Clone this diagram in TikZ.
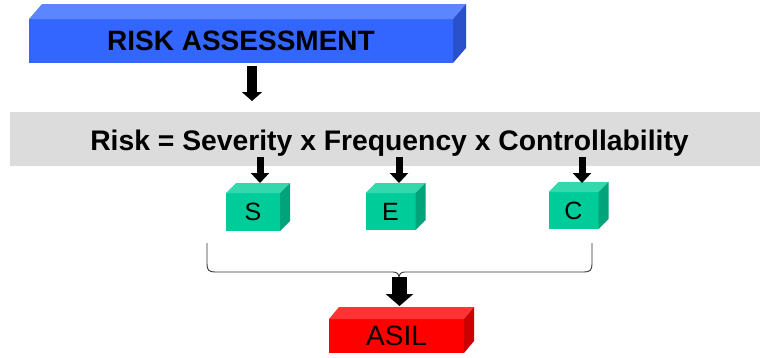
\documentclass[tikz,border=0pt]{standalone}
\usepackage{fontspec}
\setmainfont{Liberation Sans}
\usetikzlibrary{arrows.meta,calc}

\definecolor{blueFront}{HTML}{3366FF}
\definecolor{blueTop}{HTML}{5C86FF}
\definecolor{blueSide}{HTML}{2A50CC}
\definecolor{greenFront}{HTML}{00CC99}
\definecolor{greenTop}{HTML}{33D9AD}
\definecolor{greenSide}{HTML}{00A37A}
\definecolor{redFront}{HTML}{FF0000}
\definecolor{redTop}{HTML}{FF3333}
\definecolor{redSide}{HTML}{CC0000}
\definecolor{bandGray}{HTML}{DCDCDC}
\definecolor{braceGray}{HTML}{333333}

% front face of a block; top and side faces are added by \blockfaces
\tikzset{
  front/.style={inner sep=0pt, outer sep=0pt, text=black},
  bigarrow/.style={line width=10pt, -{Triangle[width=20pt,length=9pt]}},
  smallarrow/.style={line width=7pt, -{Triangle[width=18pt,length=10pt]}},
  fatarrow/.style={line width=15pt, -{Triangle[width=27pt,length=12pt]}},
  bracestyle/.style={draw=braceGray, line width=0.9pt},
}

% #1 node name, #2 depth dx, #3 depth dy, #4 top colour, #5 side colour
\newcommand\blockfaces[5]{%
  \fill[#4] (#1.north west) -- ++(#2,-#3) -- ($(#1.north east)+(#2,-#3)$)
           -- (#1.north east) -- cycle;
  \fill[#5] (#1.north east) -- ++(#2,-#3) -- ($(#1.south east)+(#2,-#3)$)
           -- (#1.south east) -- cycle;
}

\begin{document}
\begin{tikzpicture}[x=1pt,y=-1pt]
\useasboundingbox (0,0) rectangle (763,357);

% risk assessment bar
\node[front, fill=blueFront, minimum width=424pt, minimum height=44pt,
      font=\fontsize{28}{30}\selectfont\bfseries] (ra) at (241,41) {RISK ASSESSMENT};
\blockfaces{ra}{13}{15}{blueTop}{blueSide}

% formula band
\node[fill=bandGray, minimum width=750pt, minimum height=54pt, inner sep=0pt] (band) at (385,139) {};
\node[anchor=base, inner sep=0pt, font=\fontsize{28.3}{30}\selectfont\bfseries] (formula) at (389.5,150)
  {Risk = Severity x Frequency x Controllability};

% S, E, C cubes
\node[front, fill=greenFront, minimum width=54pt, minimum height=38pt,
      font=\fontsize{25}{27}\selectfont] (s) at (253,212) {S};
\node[front, fill=greenFront, minimum width=50pt, minimum height=37pt,
      font=\fontsize{25}{27}\selectfont] (e) at (390.5,211.5) {E};
\node[front, fill=greenFront, minimum width=50pt, minimum height=37pt,
      font=\fontsize{25}{27}\selectfont] (c) at (573.5,210.5) {C};
\blockfaces{s}{10}{10}{greenTop}{greenSide}
\blockfaces{e}{10}{10}{greenTop}{greenSide}
\blockfaces{c}{10}{10}{greenTop}{greenSide}

% ASIL block
\node[front, fill=redFront, minimum width=135pt, minimum height=34pt,
      font=\fontsize{28}{30}\selectfont] (asil) at (396.5,336) {ASIL};
\blockfaces{asil}{10}{12}{redTop}{redSide}

% arrows
\coordinate (a0) at (252,66);
\coordinate (a0e) at (252,101);
\draw[bigarrow] (a0) -- (a0e);

\coordinate (sa) at (260,157);
\coordinate (ea) at (399,157);
\coordinate (ca) at (582,157);
\draw[smallarrow] (sa) -- (sa |- 0,183);
\draw[smallarrow] (ea) -- (ea |- 0,183);
\draw[smallarrow] (ca) -- (ca |- 0,183);

% brace gathering S, E, C
\coordinate (bl) at (207,243);
\coordinate (br) at (592,243);
\coordinate (bm) at (399,278);
\draw[bracestyle] (bl) -- (207,264) .. controls (207,270) and (209,272) .. (215,272)
  -- (393,272) .. controls (397,272) and (399,274) .. (bm)
  .. controls (399,274) and (401,272) .. (405,272)
  -- (584,272) .. controls (590,272) and (592,270) .. (592,264) -- (br);

\coordinate (fa) at (399.5,277);
\coordinate (fae) at (399.5,306);
\draw[fatarrow] (fa) -- (fae);
\end{tikzpicture}
\end{document}
